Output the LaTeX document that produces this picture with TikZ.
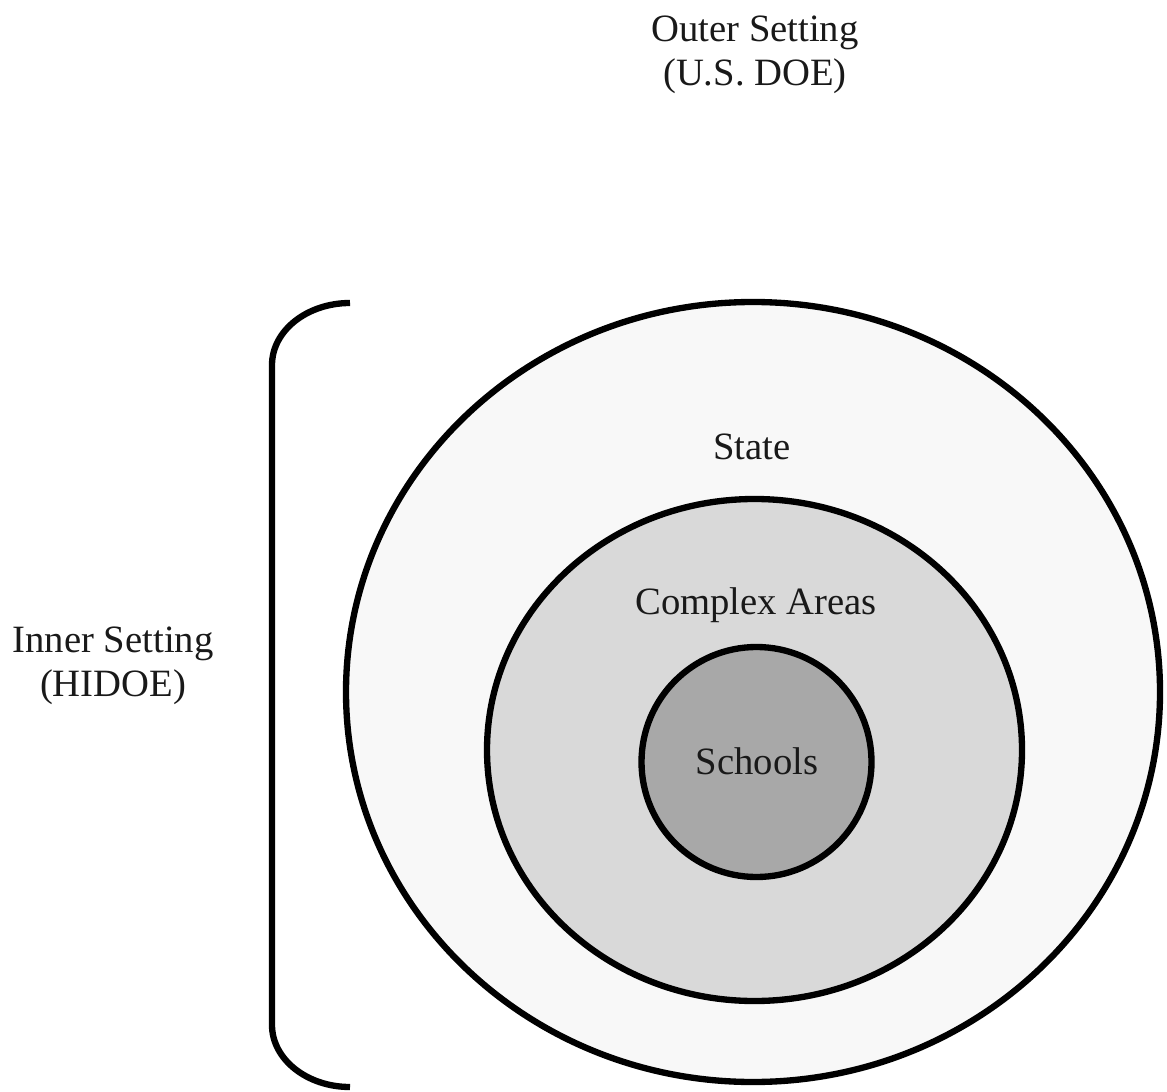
\documentclass[tikz,border=0pt]{standalone}
\usepackage{fontspec}
\setmainfont{Liberation Serif}
\usetikzlibrary{shapes.geometric}
\definecolor{pale}{RGB}{248,248,248}
\definecolor{mist}{RGB}{217,217,217}
\definecolor{slate}{RGB}{168,168,168}
\tikzset{
  ring/.style={ellipse,draw=black,line width=1.8pt,fill=#1,inner sep=0pt},
  ring/.default=pale,
  tag/.style={font=\fontsize{11}{12.5}\selectfont,align=center,text=black!90},
}
\begin{document}
\begin{tikzpicture}
  \useasboundingbox (0,0) rectangle (11.67,-10.92);
  % nested settings
  \node[ring=pale,minimum width=8.14cm,minimum height=7.80cm] (state) at (7.53,-6.92) {};
  \node[ring=mist,minimum width=5.35cm,minimum height=5.02cm] (areas) at (7.545,-7.50) {};
  \node[ring=slate,circle,minimum size=2.30cm] (schools) at (7.565,-7.62) {};
  \node[tag,anchor=base] (stateLbl) at (7.52,-4.60) {State};
  \node[tag,anchor=base] (areasLbl) at (7.56,-6.14) {Complex Areas};
  \node[tag,anchor=base] (schoolsLbl) at (7.57,-7.74) {Schools};
  % settings labels
  \node[tag] (outerLbl) at (7.55,-0.55) {Outer Setting\\(U.S. DOE)};
  \node[tag] (innerLbl) at (1.13,-6.66) {Inner Setting\\(HIDOE)};
  % bracket
  \draw[line width=1.8pt] (3.50,-3.03) arc[start angle=90,end angle=180,x radius=0.78,y radius=0.62]
    -- (2.72,-10.25) arc[start angle=180,end angle=270,x radius=0.78,y radius=0.62];
\end{tikzpicture}
\end{document}
